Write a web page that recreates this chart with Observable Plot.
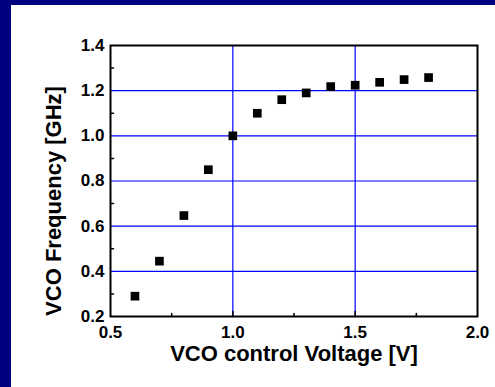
<!DOCTYPE html>
<html><head><meta charset="utf-8">
<script src="https://cdn.jsdelivr.net/npm/d3@7"></script>
<script src="https://cdn.jsdelivr.net/npm/@observablehq/plot@0.6"></script>
<style>
html,body{margin:0;padding:0;background:#000080;width:495px;height:387px;overflow:hidden}
#panel{position:absolute;left:11px;top:5px;width:484px;height:382px;background:#fff}
</style></head><body><div id="panel"></div>
<script>
const voltage = [0.6, 0.7, 0.8, 0.9, 1.0, 1.1, 1.2, 1.3, 1.4, 1.5, 1.6, 1.7, 1.8];
const frequency = [0.29, 0.445, 0.647, 0.85, 1.0, 1.10, 1.16, 1.19, 1.218, 1.224, 1.237, 1.249, 1.258];
const xTicks = [0.5, 1.0, 1.5, 2.0];
const yTicks = [0.2, 0.4, 0.6, 0.8, 1.0, 1.2, 1.4];
const xGrid = [1.0, 1.5];
const yGrid = [0.4, 0.6, 0.8, 1.0, 1.2];
const xMinor = [0.75, 1.25, 1.75];
const yMinor = [0.3, 0.5, 0.7, 0.9, 1.1, 1.3];
const xLabel = "VCO control Voltage [V]";
const yLabel = "VCO Frequency [GHz]";

const data = voltage.map((v, i) => ({v, f: frequency[i]}));
const tickShape = {draw(ctx, l) { ctx.moveTo(0, 0); ctx.lineTo(0, -l); }};

const chart = Plot.plot({
  width: 484, height: 382,
  marginLeft: 99, marginRight: 18, marginTop: 40, marginBottom: 71,
  style: {background: "transparent", fontFamily: "Liberation Sans, Arial, sans-serif", overflow: "visible"},
  x: {domain: [0.5, 2.0], label: null},
  y: {domain: [0.2, 1.4], label: null},
  marks: [
    Plot.ruleX(xGrid, {stroke: "#0000ff", strokeWidth: 1.2}),
    Plot.ruleY(yGrid, {stroke: "#0000ff", strokeWidth: 1.2}),
    Plot.vector(xMinor, {x: d => d, frameAnchor: "bottom", length: 3, anchor: "start", shape: tickShape, stroke: "black", strokeWidth: 1.5}),
    Plot.vector(xGrid, {x: d => d, frameAnchor: "bottom", length: 5, anchor: "start", shape: tickShape, stroke: "black", strokeWidth: 1.5}),
    Plot.vector(yMinor, {y: d => d, frameAnchor: "left", length: 3, rotate: 90, anchor: "start", shape: tickShape, stroke: "black", strokeWidth: 1.5}),
    Plot.frame({stroke: "black", strokeWidth: 2}),
    Plot.axisX({ticks: xTicks, tickFormat: d3.format(".1f"), tickSize: 0, tickPadding: 9, fontSize: 17, fontWeight: "bold", fill: "black", label: null}),
    Plot.axisY({ticks: yTicks, tickFormat: d3.format(".1f"), tickSize: 0, tickPadding: 6, fontSize: 17, fontWeight: "bold", fill: "black", label: null}),
    Plot.dot(data, {x: "v", y: "f", symbol: "square", r: 4.9, fill: "black", stroke: "none"}),
    Plot.text([xLabel], {frameAnchor: "bottom", dy: 37, lineAnchor: "middle", fontSize: 22, fontWeight: "bold", fill: "black"}),
    Plot.text([yLabel], {frameAnchor: "left", dx: -57, dy: 20, rotate: -90, textAnchor: "middle", lineAnchor: "middle", fontSize: 22, fontWeight: "bold", fill: "black"})
  ]
});
document.getElementById("panel").appendChild(chart);
</script>
</body></html>
